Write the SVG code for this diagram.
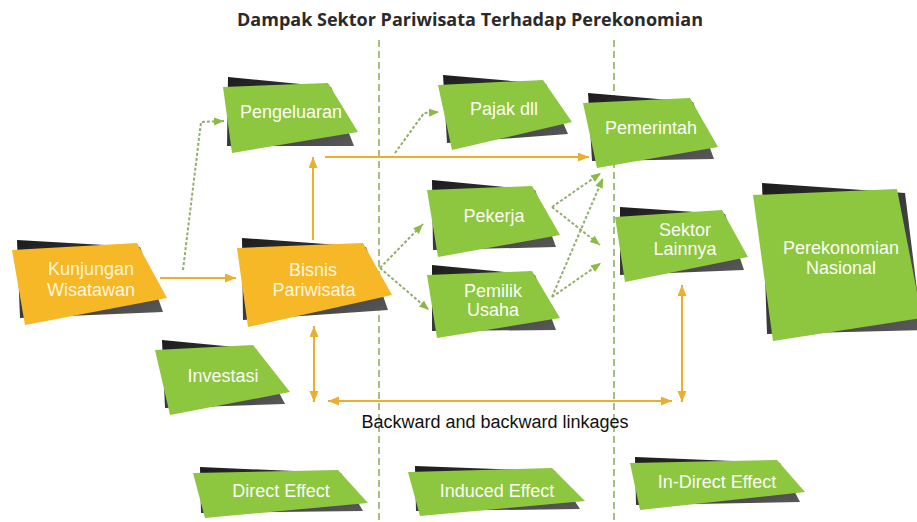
<svg xmlns="http://www.w3.org/2000/svg" width="917" height="522" viewBox="0 0 917 522">
<defs>
<linearGradient id="dkg" x1="0" y1="0" x2="1" y2="1">
<stop offset="0" stop-color="#1c1c1c"/>
<stop offset="1" stop-color="#5a5a5a"/>
</linearGradient>
<marker id="ao" markerUnits="userSpaceOnUse" markerWidth="12" markerHeight="10" refX="11" refY="4.5" orient="auto-start-reverse">
<path d="M0,0 L11,4.5 L0,9 z" fill="#EBAE2D"/>
</marker>
<marker id="ag" markerUnits="userSpaceOnUse" markerWidth="11" markerHeight="9" refX="10" refY="4" orient="auto">
<path d="M0,0 L10,4 L0,8 z" fill="#8CBB45"/>
</marker>
<style>
.dk{fill:url(#dkg)}
.gr{fill:#8DC63F}
.or{fill:#F6B826}
.lb{font-family:"Liberation Sans",Arial,sans-serif;font-size:18px;fill:#fbfdf6;text-anchor:middle}
.lo{fill:#fff6dc}
.sep{stroke:#A6BF80;stroke-width:2;stroke-dasharray:7 4;fill:none}
.so{stroke:#EBAE2D;stroke-width:2;fill:none}
.dt{stroke:#93AE6C;stroke-width:2;stroke-dasharray:3 2;fill:none;marker-end:url(#ag)}
</style>
</defs>
<rect width="917" height="522" fill="#ffffff"/>
<text x="470" y="26" font-family="'Open Sans','Liberation Sans',sans-serif" font-weight="700" font-size="17" fill="#2a2a2a" text-anchor="middle" textLength="466" lengthAdjust="spacingAndGlyphs">Dampak Sektor Pariwisata Terhadap Perekonomian</text>
<g id="separators">
<line class="sep" x1="379" y1="40" x2="379" y2="522"/>
<line class="sep" x1="614" y1="40" x2="614" y2="522"/>
</g>
<g id="n-pengeluaran"><polygon class="dk" points="228,77 331,87 354,146 227,146"/><polygon class="gr" points="223,87 328,83 358,132 232,153"/><text class="lb" x="291" y="118">Pengeluaran</text></g>
<g id="n-kunjungan"><polygon class="dk" points="17,240 140,247 163,312 20,318"/><polygon class="or" points="12,250 137,243 167,298 25,325"/><text class="lb lo" x="91" y="275">Kunjungan</text><text class="lb lo" x="91" y="296">Wisatawan</text></g>
<g id="n-bisnis"><polygon class="dk" points="242,238 366,247 388,310 243,320"/><polygon class="or" points="237,248 363,243 392,295 248,327"/><text class="lb lo" x="313" y="276">Bisnis</text><text class="lb lo" x="314" y="296">Pariwisata</text></g>
<g id="n-pajak"><polygon class="dk" points="443,75 546,84 568,134 447,143"/><polygon class="gr" points="438,85 543,80 572,122 452,150"/><text class="lb" x="504" y="115">Pajak dll</text></g>
<g id="n-pemerintah"><polygon class="dk" points="588,93 693,102 714,159 592,161"/><polygon class="gr" points="583,103 690,98 718,147 597,168"/><text class="lb" x="651" y="134">Pemerintah</text></g>
<g id="n-pekerja"><polygon class="dk" points="432,180 535,190 556,247 433,250"/><polygon class="gr" points="427,190 532,186 560,235 438,257"/><text class="lb" x="494" y="222">Pekerja</text></g>
<g id="n-pemilik"><polygon class="dk" points="432,265 535,275 556,330 432,331"/><polygon class="gr" points="427,275 532,271 560,318 437,338"/><text class="lb" x="493" y="297">Pemilik</text><text class="lb" x="493" y="316">Usaha</text></g>
<g id="n-sektor"><polygon class="dk" points="620,207 725,214 744,270 620,275"/><polygon class="gr" points="615,217 722,210 748,257 625,282"/><text class="lb" x="685" y="236">Sektor</text><text class="lb" x="685" y="255">Lainnya</text></g>
<g id="n-perekonomian"><polygon class="dk" points="762,183 905,193 922,330 767,334"/><polygon class="gr" points="753,195 897,189 922,318 773,341"/><text class="lb" x="841" y="254">Perekonomian</text><text class="lb" x="841" y="274">Nasional</text></g>
<g id="n-investasi"><polygon class="dk" points="162,340 256,349 285,404 165,408"/><polygon class="gr" points="155,350 253,345 290,392 170,415"/><text class="lb" x="223" y="382">Investasi</text></g>
<g id="n-direct"><polygon class="dk" points="200,467 341,473 363,511 201,513"/><polygon class="gr" points="193,473 338,470 368,503 205,518"/><text class="lb" x="281" y="497">Direct Effect</text></g>
<g id="n-induced"><polygon class="dk" points="415,466 555,471 580,509 416,511"/><polygon class="gr" points="408,472 552,468 585,501 420,516"/><text class="lb" x="497" y="497">Induced Effect</text></g>
<g id="n-indirect"><polygon class="dk" points="635,457 780,463 800,502 636,505"/><polygon class="gr" points="630,463 777,460 805,492 640,510"/><text class="lb" x="717" y="488">In-Direct Effect</text></g>
<g id="connectors">
<line class="so" x1="160" y1="278" x2="236" y2="278" marker-end="url(#ao)"/>
<line class="so" x1="313" y1="240" x2="313" y2="157" marker-end="url(#ao)"/>
<line class="so" x1="325" y1="157" x2="589" y2="157" marker-end="url(#ao)"/>
<line class="so" x1="314" y1="326" x2="314" y2="402" marker-start="url(#ao)" marker-end="url(#ao)"/>
<line class="so" x1="328" y1="401" x2="672" y2="401" marker-start="url(#ao)" marker-end="url(#ao)"/>
<line class="so" x1="682" y1="285" x2="682" y2="402" marker-start="url(#ao)" marker-end="url(#ao)"/>
<polyline class="dt" points="183,270 201,122 224,121"/>
<polyline class="dt" points="395,153 424,113 439,112"/>
<line class="dt" x1="380" y1="268" x2="423" y2="224"/>
<line class="dt" x1="380" y1="268" x2="429" y2="310"/>
<line class="dt" x1="552" y1="207" x2="601" y2="173"/>
<line class="dt" x1="552" y1="207" x2="600" y2="245"/>
<line class="dt" x1="552" y1="297" x2="603" y2="178"/>
<line class="dt" x1="552" y1="297" x2="601" y2="263"/>
</g>
<text x="495" y="428" font-family="'Liberation Sans',Arial,sans-serif" font-size="18" fill="#111111" text-anchor="middle">Backward and backward linkages</text>
</svg>
